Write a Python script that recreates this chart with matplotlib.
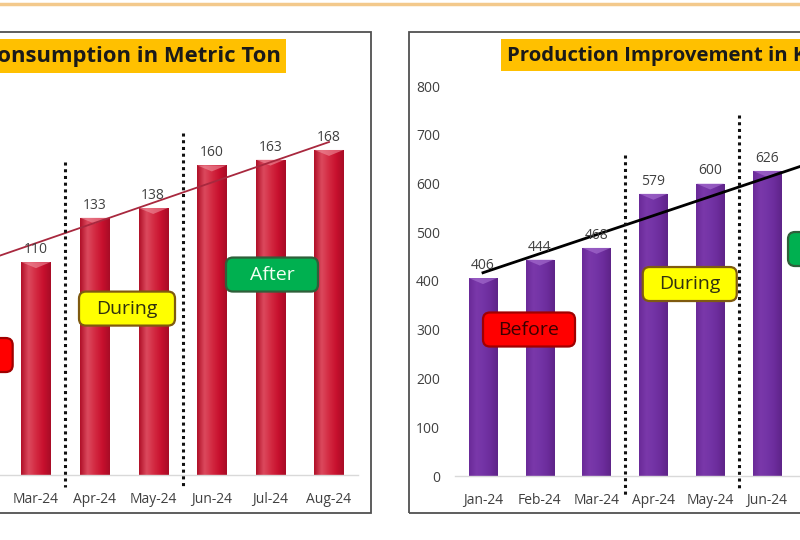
import matplotlib
matplotlib.use('Agg')
import matplotlib.pyplot as plt
import numpy as np
from matplotlib.patches import FancyBboxPatch, Rectangle, Polygon
import matplotlib.transforms as mtransforms
from matplotlib.colors import LinearSegmentedColormap
from matplotlib.lines import Line2D

# ---------------- data ----------------
months = ['Jan-24', 'Feb-24', 'Mar-24', 'Apr-24', 'May-24', 'Jun-24', 'Jul-24', 'Aug-24']
consumption = [104, 108, 110, 133, 138, 160, 163, 168]
production = [406, 444, 468, 579, 600, 626, 648, 658]
phase_labels = ['Before', 'During', 'After']
left_title = 'Coal Consumption in Metric Ton'
right_title = 'Production Improvement in Kg'
prod_yticks = [0, 100, 200, 300, 400, 500, 600, 700, 800]

plt.rcParams['font.family'] = ['Open Sans', 'DejaVu Sans']

W, H = 800, 540
fig = plt.figure(figsize=(8, 5.4), dpi=100)
fig.patch.set_facecolor('white')
renderer = fig.canvas.get_renderer()


def fx(px):
    return px / W


def fy(py):
    return 1 - py / H


def fit_size(s, target_px, base=14):
    t = fig.text(0, 0, s, fontsize=base, fontweight='bold')
    w = t.get_window_extent(renderer).width
    t.remove()
    return base * target_px / w


# top decorative line
fig.add_artist(Line2D([0, 1], [fy(4), fy(4)], transform=fig.transFigure,
                      color='#f3c98c', lw=2.5))

# panel borders
fig.add_artist(Rectangle((fx(-60), fy(513)), fx(371 + 60), (513 - 32) / H,
                         transform=fig.transFigure, fill=False,
                         ec='#505050', lw=1.3))
fig.add_artist(Rectangle((fx(409), fy(513)), fx(500), (513 - 32) / H,
                         transform=fig.transFigure, fill=False,
                         ec='#505050', lw=1.3))

# title boxes
ls = fit_size(left_title[left_title.index('onsumption'):], 283)
rs = fit_size(right_title[:right_title.index(' K')], 283)
fig.add_artist(Rectangle((fx(-60), fy(73)), fx(286 + 60), 34 / H,
                         transform=fig.transFigure, fc='#ffc000', ec='none'))
fig.text(fx(281), fy(56.5), left_title, ha='right', va='center',
         fontsize=ls, fontweight='bold', color='#1a1a1a')
fig.add_artist(Rectangle((fx(501), fy(71)), fx(400), 32 / H,
                         transform=fig.transFigure, fc='#ffc000', ec='none'))
fig.text(fx(507), fy(55.5), right_title, ha='left', va='center',
         fontsize=rs, fontweight='bold', color='#1a1a1a')

# axes
ax1 = fig.add_axes([fx(-110.5), fy(475), (358.3 + 110.5) / W, 387 / H])
ax2 = fig.add_axes([fx(454.6), fy(476), 454.4 / W, 390 / H])

x = np.arange(len(months))

red_cmap = LinearSegmentedColormap.from_list(
    'redbar', ['#b01028', '#dc4a5e', '#d32a42', '#c8102e', '#a80c26'])
purple_cmap = LinearSegmentedColormap.from_list(
    'purplebar', ['#6a2a98', '#7a38aa', '#7434a6', '#6c2c9c', '#5e2488'])


def style_axes(ax, ymax):
    ax.set_facecolor('none')
    ax.set_xlim(-0.5, len(months) - 0.5)
    ax.set_ylim(0, ymax)
    for s in ['left', 'top', 'right']:
        ax.spines[s].set_visible(False)
    ax.spines['bottom'].set_color('#d9d9d9')
    ax.spines['bottom'].set_linewidth(1.0)
    ax.set_xticks(x)
    ax.set_xticklabels(months)
    ax.tick_params(axis='x', length=0, pad=12, labelsize=10, labelcolor='#404040')


def draw_bars(ax, values, cmap, cap_color, ymax, px_per_unit):
    bars = ax.bar(x, values, width=0.5, color='none', edgecolor='none', zorder=2)
    grad = np.linspace(0, 1, 64).reshape(1, -1)
    for rect in bars:
        x0 = rect.get_x()
        w = rect.get_width()
        h = rect.get_height()
        im = ax.imshow(grad, extent=[x0, x0 + w, 0, h], aspect='auto',
                       cmap=cmap, zorder=2, interpolation='bicubic')
        im.set_clip_path(rect)
        bev = 6 / px_per_unit
        ax.add_patch(Polygon([[x0, h], [x0 + w, h], [x0 + w * 0.5, h - bev]],
                             closed=True, fc=cap_color, ec='none', alpha=0.55,
                             zorder=3))
    ax.set_xlim(-0.5, len(months) - 0.5)
    ax.set_ylim(0, ymax)


def add_box(ax, xd, yd, w_px, h_px, text, fc, ec, tc):
    tr = fig.dpi_scale_trans + mtransforms.ScaledTranslation(xd, yd, ax.transData)
    w = w_px / 100
    h = h_px / 100
    p = FancyBboxPatch((-w / 2, -h / 2), w, h,
                       boxstyle='round,pad=0,rounding_size=0.07',
                       transform=tr, fc=fc, ec=ec, lw=1.6, zorder=6, clip_on=False)
    ax.add_patch(p)
    ax.text(xd, yd, text, ha='center', va='center', fontsize=14, color=tc,
            zorder=7, clip_on=False)


# ---------------- left chart ----------------
style_axes(ax1, 200)
ax1.set_yticks([])
draw_bars(ax1, consumption, red_cmap, '#f29aa6', 200, 1.935)
for i, v in enumerate(consumption):
    ax1.annotate(str(v), (i, v), xytext=(0, 6.5), textcoords='offset points',
                 ha='center', va='baseline', fontsize=10, color='#404040', zorder=5)
fit1 = np.polyfit(x, consumption, 1)
ax1.plot([0, 7], np.polyval(fit1, [0, 7]), color='#a8283e', lw=1.3, zorder=4)
ax1.plot([2.5, 2.5], [162, -6.2], ls=(0, (1, 1.2)), color='#111111', lw=2.2,
         clip_on=False, zorder=4)
ax1.plot([4.5, 4.5], [177, -6.2], ls=(0, (1, 1.2)), color='#111111', lw=2.2,
         clip_on=False, zorder=4)
add_box(ax1, 0.80, 62.0, 94, 34, phase_labels[0], '#ff0000', '#a00000', '#3a0000')
add_box(ax1, 3.553, 86.0, 96, 34, phase_labels[1], '#ffff00', '#7f5a10', '#303010')
add_box(ax1, 6.027, 103.6, 92, 34, phase_labels[2], '#00b050', '#2f5f3a', '#f2fff2')

# ---------------- right chart ----------------
style_axes(ax2, 800)
ax2.set_yticks(prod_yticks)
ax2.tick_params(axis='y', length=0, pad=10.5, labelsize=10, labelcolor='#404040')
draw_bars(ax2, production, purple_cmap, '#b07ad8', 800, 0.4875)
for i, v in enumerate(production):
    ax2.annotate(str(v), (i, v), xytext=(0, 6.5), textcoords='offset points',
                 ha='center', va='baseline', fontsize=10, color='#404040', zorder=5)
fit2 = np.polyfit(x, production, 1)
ax2.plot([0, 7], np.polyval(fit2, [0, 7]), color='#000000', lw=2.0, zorder=4)
ax2.plot([2.5, 2.5], [658, -39], ls=(0, (1, 1.2)), color='#111111', lw=2.2,
         clip_on=False, zorder=4)
ax2.plot([4.5, 4.5], [740, -29], ls=(0, (1, 1.2)), color='#111111', lw=2.2,
         clip_on=False, zorder=4)
add_box(ax2, 0.81, 300.5, 92, 34, phase_labels[0], '#ff0000', '#a00000', '#3a0000')
add_box(ax2, 3.64, 393.8, 94, 34, phase_labels[1], '#ffff00', '#7f5a10', '#303010')
add_box(ax2, 6.18, 465.6, 92, 34, phase_labels[2], '#00b050', '#2f5f3a', '#f2fff2')

fig.savefig('out.png', dpi=100)
